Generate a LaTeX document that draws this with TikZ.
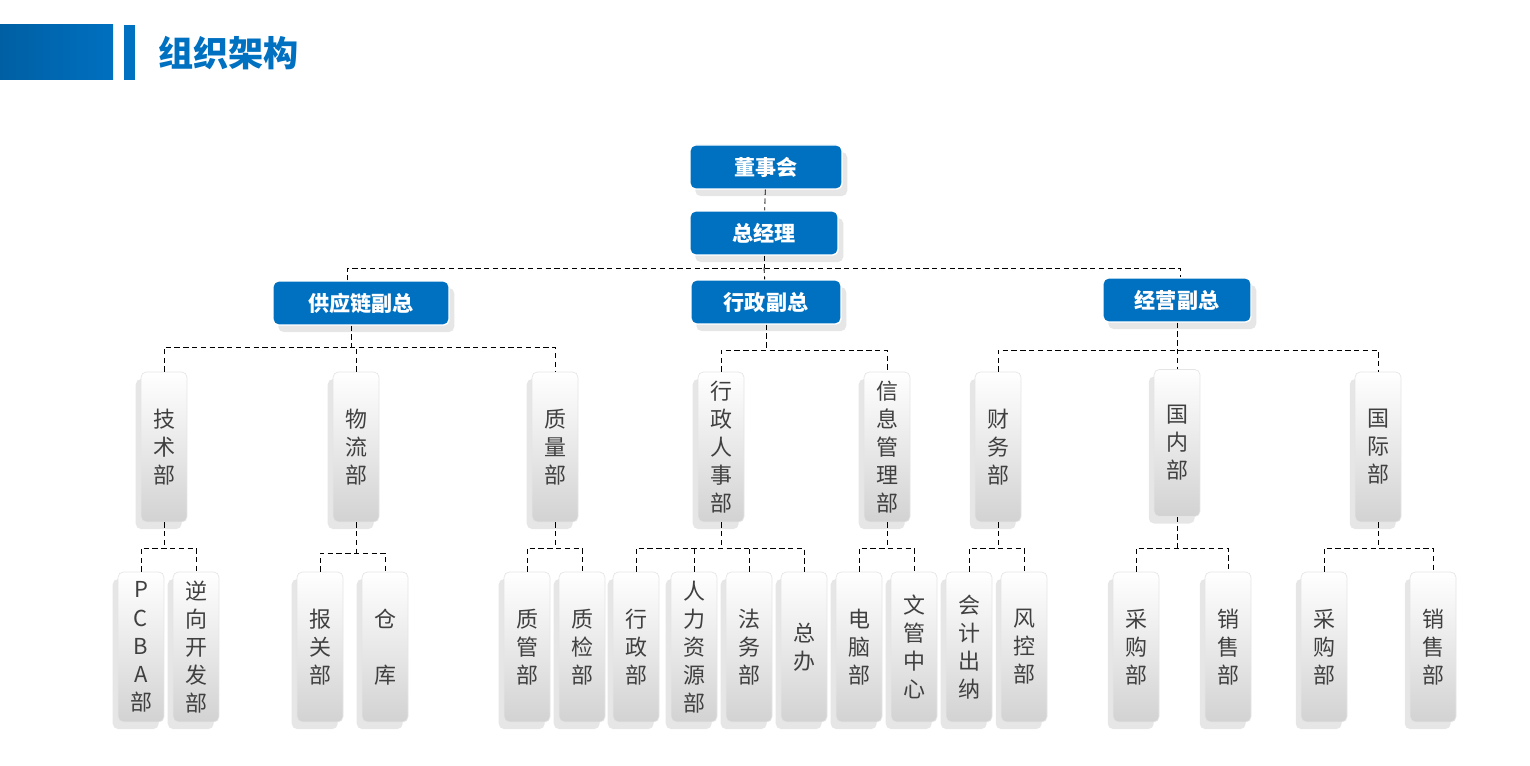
\documentclass[tikz,border=0pt]{standalone}
\usepackage{fontspec}
\setmainfont{Noto Sans CJK SC}
\usetikzlibrary{shadows}
\definecolor{hdblue}{RGB}{0,112,192}
\tikzstyle{lead} = [rectangle, rounded corners=3pt, minimum height=0.88cm, text centered, draw=white, line width=0.8pt, fill=hdblue, text=white, font=\bfseries\fontsize{12}{14}\selectfont, drop shadow={shadow xshift=3pt, shadow yshift=-4pt, opacity=0.2}]
\tikzstyle{dept} = [rectangle, rounded corners=3pt, minimum width=0.92cm, inner sep=1pt, align=center, draw=gray!20, top color=white, bottom color=gray!35, text=black!75, font=\fontsize{12.5}{16}\selectfont, drop shadow={shadow xshift=-3pt, shadow yshift=-4pt, opacity=0.2}]
\tikzstyle{link} = [densely dashed, black, line width=0.5pt]

\begin{document}
\begin{tikzpicture}[x=0.02cm, y=-0.02cm]
    \useasboundingbox (0,0) rectangle (1530,766);
    % header
    \shade[left color=hdblue!85!black, right color=hdblue] (0,25) rectangle (113,80);
    \fill[hdblue] (124,25) rectangle (135,80);
    \node (title) [anchor=west, text=hdblue, font=\bfseries\fontsize{20}{22}\selectfont] at (152,53) {组织架构};
    % top
    \node (board) [lead, minimum width=3.04cm] at (766,167) {董事会};
    \node (gm) [lead, minimum width=2.96cm] at (764,233) {总经理};
    \node (vp1) [lead, minimum width=3.52cm] at (361,303) {供应链副总};
    \node (vp2) [lead, minimum width=3cm] at (766,302) {行政副总};
    \node (vp3) [lead, minimum width=2.96cm] at (1177,300) {经营副总};
    % second level
    \node (tech) [dept, minimum height=3cm] at (164,447) {技\\术\\部};
    \node (logi) [dept, minimum height=3cm] at (356,447) {物\\流\\部};
    \node (qual) [dept, minimum height=3cm] at (555,447) {质\\量\\部};
    \node (hr) [dept, minimum height=3cm] at (721,447) {行\\政\\人\\事\\部};
    \node (info) [dept, minimum height=3cm] at (887,447) {信\\息\\管\\理\\部};
    \node (fin) [dept, minimum height=3cm] at (998,447) {财\\务\\部};
    \node (dom) [dept, minimum height=2.94cm] at (1177,443) {国\\内\\部};
    \node (intl) [dept, minimum height=3cm] at (1378,447) {国\\际\\部};
    % third level
    \foreach \nm/\x/\txt in {pcba/141/{P\\C\\B\\A\\部}, rev/196/{逆\\向\\开\\发\\部},
        cust/320/{报\\关\\部}, store/385/{仓\\\\库}, qm/527/{质\\管\\部}, qc/582/{质\\检\\部},
        adm/636/{行\\政\\部}, res/694/{人\\力\\资\\源\\部}, law/749/{法\\务\\部}, off/804/{总\\办},
        pc/859/{电\\脑\\部}, doc/914/{文\\管\\中\\心}, acc/969/{会\\计\\出\\纳}, risk/1024/{风\\控\\部},
        buya/1136/{采\\购\\部}, sella/1228/{销\\售\\部}, buyb/1324/{采\\购\\部}, sellb/1433/{销\\售\\部}}
        \node (\nm) [dept, minimum height=3cm] at (\x,647) {\txt};
    % links
    \draw [link] (board) -- (gm);
    \draw [link] (gm.south) -- ++(0,12) coordinate (hub);
    \draw [link] (vp1.north -| 347,0) -- (347,268) -- (1180,268) -- (vp3.north -| 1180,0);
    \draw [link] (hub) -- (vp2);
    \draw [link] (vp1.south -| 351,0) -- (351,347);
    \draw [link] (tech.north) -- (tech.north |- 0,347) -- (qual.north |- 0,347) -- (qual.north);
    \draw [link] (logi.north) -- (logi.north |- 0,347);
    \draw [link] (vp2.south) -- (vp2.south |- 0,350);
    \draw [link] (hr.north) -- (hr.north |- 0,350) -- (info.north |- 0,350) -- (info.north);
    \draw [link] (vp3.south) -- (dom.north);
    \draw [link] (fin.north) -- (fin.north |- 0,350) -- (intl.north |- 0,350) -- (intl.north);
    \foreach \up/\l/\r/\y in {tech/pcba/rev/548, logi/cust/store/553, qual/qm/qc/548, hr/adm/off/548,
        info/pc/doc/548, fin/acc/risk/548, dom/buya/sella/548, intl/buyb/sellb/548}{
        \draw [link] (\up.south) -- (\up.south |- 0,\y);
        \draw [link] (\l.north) -- (\l.north |- 0,\y) -- (\r.north |- 0,\y) -- (\r.north);
    }
    \draw [link] (res.north) -- (res.north |- 0,548);
    \draw [link] (law.north) -- (law.north |- 0,548);
\end{tikzpicture}
\end{document}
